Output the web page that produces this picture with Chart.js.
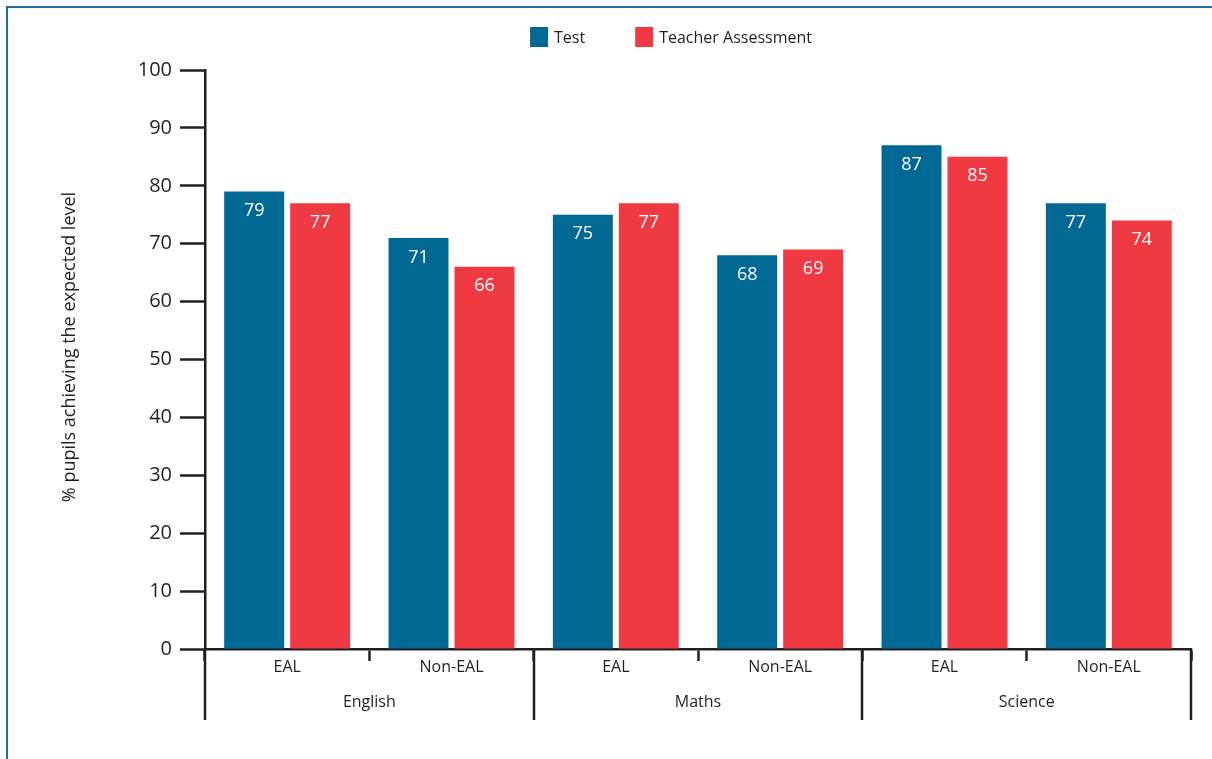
<!DOCTYPE html>
<html><head><meta charset="utf-8">
<script src="https://cdn.jsdelivr.net/npm/chart.js@4.4.1/dist/chart.umd.min.js"></script>
<style>
html,body{margin:0;padding:0;background:#fff;width:1212px;height:759px;overflow:hidden}
#frame{position:absolute;left:6px;top:6px;width:1220px;height:770px;border-top:2px solid #1f6f98;border-left:2px solid #1f6f98}
#c{position:absolute;left:0;top:0}
</style></head><body>
<div id="frame"></div>
<canvas id="c" width="1212" height="759"></canvas>
<script>
const subjects = ['English', 'Maths', 'Science'];
const categories = ['EAL', 'Non-EAL', 'EAL', 'Non-EAL', 'EAL', 'Non-EAL'];
const testValues = [79, 71, 75, 68, 87, 77];
const teacherValues = [77, 66, 77, 69, 85, 74];
const seriesNames = ['Test', 'Teacher Assessment'];
const seriesColors = ['#006892', '#ef3a43'];
const yTickValues = [0, 10, 20, 30, 40, 50, 60, 70, 80, 90, 100];
const yTitle = '% pupils achieving the expected level';

const INK = '#231f20';
const FONT = '"Open Sans", "Noto Sans", sans-serif';

const valueLabels = {
  id: 'valueLabels',
  afterDatasetsDraw(chart) {
    const ctx = chart.ctx;
    ctx.save();
    ctx.fillStyle = '#ffffff';
    ctx.font = '18px ' + FONT;
    ctx.textAlign = 'center';
    ctx.textBaseline = 'middle';
    chart.data.datasets.forEach((ds, di) => {
      const meta = chart.getDatasetMeta(di);
      meta.data.forEach((el, i) => {
        ctx.fillText(String(ds.data[i]), el.x, el.y + 19.5);
      });
    });
    ctx.restore();
  }
};

const groupLines = {
  id: 'groupLines',
  afterDraw(chart) {
    const x = chart.scales.x;
    const ctx = chart.ctx;
    const area = chart.chartArea;
    ctx.save();
    ctx.strokeStyle = INK;
    ctx.lineWidth = 2.5;
    for (let g = 0; g <= subjects.length; g++) {
      const px = Math.round(x.getPixelForValue(g * 2 - 0.5));
      ctx.beginPath();
      ctx.moveTo(px, area.bottom - 1);
      ctx.lineTo(px, area.bottom + 71);
      ctx.stroke();
    }
    // y axis title
    ctx.fillStyle = INK;
    ctx.font = '18px ' + FONT;
    ctx.textAlign = 'center';
    ctx.textBaseline = 'middle';
    ctx.translate(70, 347);
    ctx.rotate(-Math.PI / 2);
    ctx.fillText(yTitle, 0, 0);
    ctx.restore();
  }
};

const customLegend = {
  id: 'customLegend',
  afterDraw(chart) {
    const ctx = chart.ctx;
    ctx.save();
    ctx.font = '16px ' + FONT;
    ctx.textBaseline = 'middle';
    ctx.textAlign = 'left';
    const boxW = 18, boxH = 20, gapText = 6, gapItem = 50, cy = 37;
    const widths = chart.data.datasets.map(ds => boxW + gapText + ctx.measureText(ds.label).width);
    const total = widths.reduce((a, b) => a + b, 0) + gapItem * (widths.length - 1);
    let xPos = 671 - total / 2;
    chart.data.datasets.forEach((ds, i) => {
      ctx.fillStyle = ds.backgroundColor;
      ctx.fillRect(xPos, cy - boxH / 2, boxW, boxH);
      ctx.fillStyle = INK;
      ctx.fillText(ds.label, xPos + boxW + gapText, cy + 1);
      xPos += widths[i] + gapItem;
    });
    ctx.restore();
  }
};

new Chart(document.getElementById('c'), {
  type: 'bar',
  data: {
    labels: categories,
    datasets: [
      { label: seriesNames[0], data: testValues, backgroundColor: seriesColors[0] },
      { label: seriesNames[1], data: teacherValues, backgroundColor: seriesColors[1] }
    ]
  },
  options: {
    responsive: false,
    animation: false,
    devicePixelRatio: 1,
    categoryPercentage: 0.803,
    barPercentage: 0.909,
    layout: { padding: { left: 0, right: 21, top: 70, bottom: 34 } },
    plugins: {
      legend: { display: false },
      tooltip: { enabled: false }
    },
    scales: {
      y: {
        min: 0, max: 100,
        afterBuildTicks(s) { s.ticks = yTickValues.map(v => ({ value: v })); },
        afterFit(s) { s.width = 205; },
        ticks: { color: INK, font: { family: FONT, size: 20 }, padding: 8 },
        grid: { drawOnChartArea: false, drawTicks: true, tickLength: 25, tickWidth: 2.5, tickColor: INK },
        border: { display: true, color: INK, width: 2.5 }
      },
      x: {
        type: 'category',
        offset: true,
        afterFit(s) { s.height = 36; },
        ticks: { color: INK, font: { family: FONT, size: 16 }, padding: -3, maxRotation: 0, autoSkip: false },
        grid: { offset: true, drawOnChartArea: false, drawTicks: true, tickLength: 12, tickWidth: 2.5, tickColor: INK },
        border: { display: true, color: INK, width: 2.5 }
      },
      x2: {
        type: 'category',
        position: 'bottom',
        labels: subjects,
        offset: true,
        afterFit(s) { s.height = 40; },
        ticks: { color: INK, font: { family: FONT, size: 16 }, padding: 8, maxRotation: 0, autoSkip: false },
        grid: { display: false, drawTicks: false },
        border: { display: false }
      }
    }
  },
  plugins: [valueLabels, groupLines, customLegend]
});
</script>
</body></html>
